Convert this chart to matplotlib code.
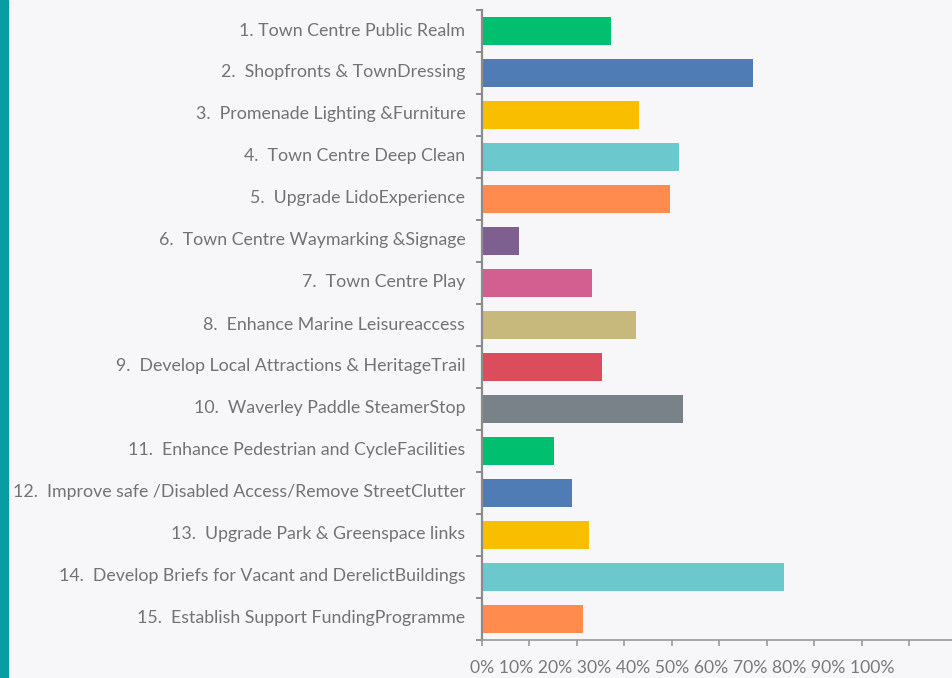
import matplotlib
matplotlib.use("Agg")
import matplotlib.pyplot as plt
from matplotlib.patches import Rectangle
from matplotlib.transforms import ScaledTranslation
import numpy as np

categories = [
    "1. Town Centre Public Realm",
    "2.  Shopfronts & TownDressing",
    "3.  Promenade Lighting &Furniture",
    "4.  Town Centre Deep Clean",
    "5.  Upgrade LidoExperience",
    "6.  Town Centre Waymarking &Signage",
    "7.  Town Centre Play",
    "8.  Enhance Marine Leisureaccess",
    "9.  Develop Local Attractions & HeritageTrail",
    "10.  Waverley Paddle SteamerStop",
    "11.  Enhance Pedestrian and CycleFacilities",
    "12.  Improve safe /Disabled Access/Remove StreetClutter",
    "13.  Upgrade Park & Greenspace links",
    "14.  Develop Briefs for Vacant and DerelictBuildings",
    "15.  Establish Support FundingProgramme",
]
values = [27.2, 57.1, 33.1, 41.5, 39.6, 7.8, 23.2, 32.4, 25.3, 42.3,
          15.2, 18.9, 22.5, 63.6, 21.3]
colors = ["#00bf6f", "#507cb6", "#f9be00", "#6bc8cd", "#ff8b4f",
          "#7f5f90", "#d25f90", "#c7b97b", "#db4d5c", "#7a8289",
          "#00bf6f", "#507cb6", "#f9be00", "#6bc8cd", "#ff8b4f"]
tick_labels = ["0%", "10%", "20%", "30%", "40%", "50%", "60%", "70%",
               "80%", "90%", "100%"]

W, H = 952, 678
fig = plt.figure(figsize=(W / 100, H / 100), dpi=100)
bg = "#f7f7f9"
fig.patch.set_facecolor(bg)

# teal stripe on the left edge
fig.patches.append(Rectangle((0, 0), 8 / W, 1, transform=fig.transFigure,
                             color="#0a9ca3", zorder=0))

ax = fig.add_axes([477 / W, 1 - 640 / H, 480 / W, 630 / H])
ax.set_facecolor(bg)
y = np.arange(len(categories))
ax.barh(y, values, height=0.667, color=colors, zorder=2)
ax.set_xlim(-1.05, 100)
ax.set_ylim(len(categories) - 0.5, -0.5)

for s in ["top", "right"]:
    ax.spines[s].set_visible(False)
ax.spines["left"].set_position(("data", 0))
ax.spines["left"].set_color("#8c8c8c")
ax.spines["left"].set_linewidth(1.6)
ax.spines["bottom"].set_color("#9a9a9a")
ax.spines["bottom"].set_linewidth(1.2)

# y axis: labels at centres, tick marks at boundaries
ax.set_yticks(y)
ax.set_yticklabels(categories, fontsize=12.8, color="#737373",
                   family=["Lato", "DejaVu Sans"])
ax.tick_params(axis="y", which="major", length=0, pad=12)
shift = ScaledTranslation(0, 2 / 100, fig.dpi_scale_trans)
for lbl in ax.get_yticklabels():
    lbl.set_transform(lbl.get_transform() + shift)
ax.set_yticks(np.arange(len(categories) + 1) - 0.5, minor=True)
ax.tick_params(axis="y", which="minor", length=4.5, width=1.4,
               color="#8c8c8c")

# x axis ticks
ax.set_xticks(np.arange(0, 101, 10))
ax.set_xticklabels([])
ax.tick_params(axis="x", length=4.5, width=1.2, color="#9a9a9a")

fig.text(470 / W, 1 - 668 / H, " ".join(tick_labels), ha="left",
         va="center", fontsize=12.7, color="#7a7a7a",
         family=["Lato", "DejaVu Sans"])

fig.savefig("out.png", dpi=100, facecolor=bg)
